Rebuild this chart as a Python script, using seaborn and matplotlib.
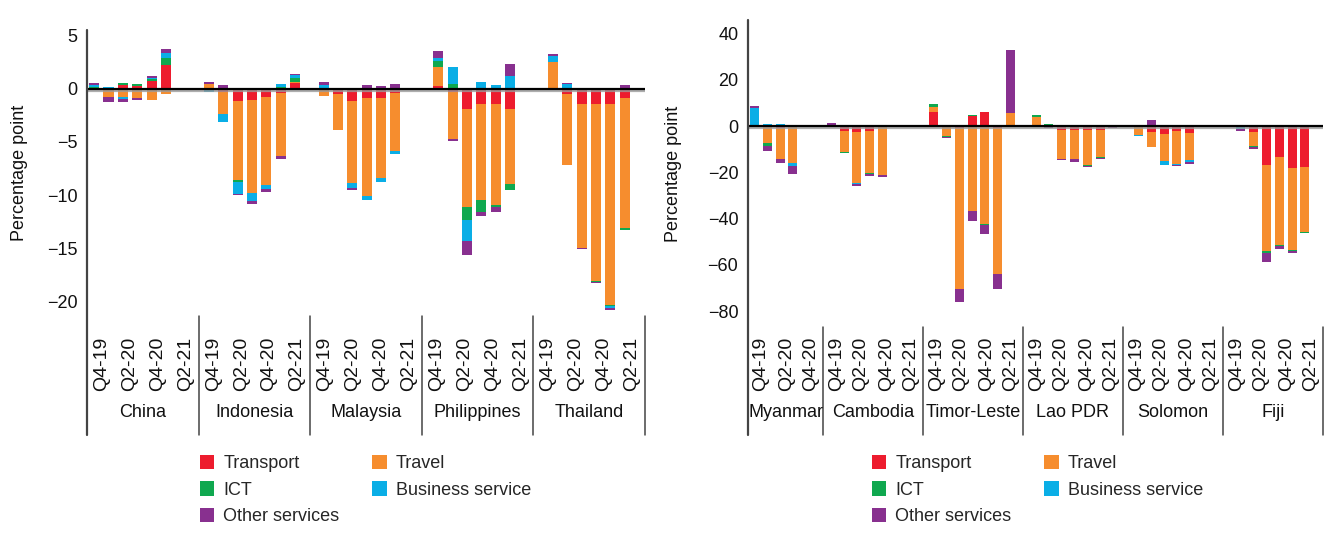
import numpy as np
import pandas as pd
import matplotlib
matplotlib.use('Agg')
import matplotlib.pyplot as plt
import matplotlib.transforms as mtransforms
import matplotlib.patheffects as pe
from matplotlib.patches import Patch
import seaborn as sns

sns.set_theme(style='white')
plt.rcParams['font.family'] = ['Liberation Sans Narrow', 'Liberation Sans', 'DejaVu Sans']

# Servicios y colores
servicios = ['Transport', 'Travel', 'ICT', 'Business service', 'Other services']
colores = sns.color_palette(['#ED1C2E', '#F68D2E', '#0FA84F', '#0AAEE6', '#88308F'])
trimestres = ['Q4-19', 'Q1-20', 'Q2-20', 'Q3-20', 'Q4-20', 'Q1-21', 'Q2-21', 'Q3-21']

# ---------------- Panel izquierdo ----------------
paises_a = ['China', 'Indonesia', 'Malaysia', 'Philippines', 'Thailand']
slots_a = [8, 8, 8, 8, 8]

transport_a = [
    [0.00, -0.05, 0.38, 0.31, 0.72, 2.29],
    [0.00, -0.25, -1.10, -1.00, -0.72, -0.34, 0.60],
    [0.00, -0.44, -1.10, -0.90, -0.90, -0.34],
    [0.31, -0.25, -1.94, -1.38, -1.47, -1.85],
    [-0.15, -0.44, -1.38, -1.47, -1.38, -0.90],
]
travel_a = [
    [-0.05, -0.70, -0.78, -0.88, -1.00, -0.44],
    [0.50, -2.16, -7.52, -8.80, -8.37, -6.00, 0.06],
    [-0.63, -3.48, -7.80, -9.20, -7.50, -5.55],
    [1.79, -4.50, -9.20, -9.12, -9.50, -7.15],
    [2.57, -6.77, -13.60, -16.60, -19.00, -12.20],
]
ict_a = [
    [0.22, 0.00, 0.22, 0.19, 0.19, 0.66],
    [0.00, 0.00, -0.19, 0.00, 0.00, 0.22, 0.38],
    [0.12, 0.00, 0.00, 0.00, 0.12, 0.00],
    [0.56, 0.50, -1.22, -1.13, -0.19, -0.56],
    [0.00, 0.00, 0.00, -0.10, -0.10, -0.19],
]
business_a = [
    [0.19, 0.22, -0.19, 0.00, 0.16, 0.47],
    [-0.25, -0.75, -1.13, -0.78, -0.38, 0.28, 0.28],
    [0.28, 0.00, -0.47, -0.38, -0.38, -0.28],
    [0.28, 1.60, -1.97, 0.69, 0.41, 1.25],
    [0.56, 0.50, 0.00, 0.00, -0.19, 0.12],
]
otros_a = [
    [0.10, -0.47, -0.22, -0.12, 0.10, 0.38],
    [0.19, 0.40, -0.10, -0.28, -0.28, -0.28, 0.10],
    [0.28, 0.12, -0.19, 0.41, 0.19, 0.50],
    [0.66, -0.19, -1.32, -0.38, -0.47, 1.13],
    [0.19, 0.10, -0.10, -0.10, -0.19, 0.28],
]

# ---------------- Panel derecho ----------------
paises_b = ['Myanmar', 'Cambodia', 'Timor-Leste', 'Lao PDR', 'Solomon', 'Fiji']
slots_b = [6, 8, 8, 8, 8, 8]

transport_b = [
    [0.00, 0.00, -0.70, 0.40],
    [0.00, -2.16, -2.60, -2.16, 0.00],
    [6.04, 0.00, -0.86, 4.30, 6.04, -0.86, 0.00],
    [0.40, 0.00, -1.73, -1.73, -1.73, -1.73, 0.00],
    [0.00, -2.60, -3.45, -2.16, -3.00],
    [0.00, -2.60, -16.80, -13.40, -18.10, -17.70],
]
travel_b = [
    [0.00, -7.30, -13.50, -16.00],
    [0.00, -9.10, -22.00, -18.00, -21.20],
    [2.16, -4.30, -69.50, -36.70, -42.30, -63.00, 5.60],
    [3.45, 0.00, -12.50, -12.50, -15.10, -11.65, 0.40],
    [-3.90, -6.50, -11.65, -14.20, -11.65],
    [-0.50, -6.04, -37.10, -38.00, -35.40, -28.10],
]
ict_b = [
    [0.00, -1.30, 0.00, 0.00],
    [0.00, -0.40, 0.00, -0.60, 0.00],
    [1.30, -0.40, 0.00, 0.40, -0.40, 0.00, 0.00],
    [0.86, 0.86, 0.00, 0.00, -0.40, -0.40, 0.00],
    [0.00, 0.00, 0.00, 0.00, 0.00],
    [0.00, -0.40, -0.86, -0.40, -0.40, -0.40],
]
business_b = [
    [7.80, 0.86, 0.86, -1.30],
    [0.40, 0.00, -0.40, 0.00, 0.40],
    [0.00, 0.00, 0.00, 0.00, 0.00, 0.00, 0.00],
    [0.00, 0.00, 0.00, 0.00, 0.00, 0.00, 0.00],
    [-0.40, 0.00, -1.73, -0.40, -0.86],
    [-0.70, 0.00, 0.00, 0.00, 0.00, 0.00],
]
otros_b = [
    [0.86, -2.16, -1.70, -3.45],
    [0.86, 0.40, -0.86, -0.86, -0.86],
    [0.00, -0.40, -5.90, -4.30, -3.90, -6.50, 27.20],
    [0.00, -0.86, -0.40, -1.30, -0.40, -0.40, -0.86],
    [0.40, 2.60, 0.40, -0.40, -0.86],
    [-0.86, -0.86, -3.90, -1.30, -0.86, 0.00],
]


def armar_tabla(paises, slots, series):
    filas = []
    inicio = np.concatenate([[0], np.cumsum(slots)[:-1]])
    for s, serie in enumerate(series):
        for c, pais in enumerate(paises):
            for q, v in enumerate(serie[c]):
                filas.append({'pais': pais, 'trimestre': trimestres[q],
                              'x': inicio[c] + q, 'servicio': servicios[s],
                              'orden': s, 'valor': v})
    return pd.DataFrame(filas)


def dibujar_panel(ax, paises, slots, series, ylim, yticks, y_bajo_fig, xlab, escala):
    df = armar_tabla(paises, slots, series)
    inicio = np.concatenate([[0], np.cumsum(slots)[:-1]])
    total = sum(slots)

    arriba = {}
    abajo = {}
    for s in range(len(servicios)):
        sub = df[df['orden'] == s]
        xs = sub['x'].to_numpy()
        vals = sub['valor'].to_numpy()
        base = np.array([arriba.get(x, 0.0) if v >= 0 else abajo.get(x, 0.0)
                         for x, v in zip(xs, vals)])
        # las barras del original van un poco más espaciadas que los divisores
        xpos = -0.5 + (xs + 0.5) * escala
        ax.bar(xpos, vals, bottom=base, width=0.72, color=colores[s],
               linewidth=0, zorder=2)
        for x, v, b in zip(xs, vals, base):
            if v >= 0:
                arriba[x] = b + v
            else:
                abajo[x] = b + v

    ax.axhline(0, color='black', lw=1.6, zorder=4,
               path_effects=[pe.SimpleLineShadow(offset=(0, -1.6), shadow_color='#9a9a9a', alpha=0.8),
                             pe.Normal()])

    ax.set_xlim(-0.5, total - 0.5)
    ax.set_ylim(*ylim)
    ax.set_yticks(yticks)
    ax.set_yticklabels([f'{t:d}'.replace('-', '\u2212') for t in yticks])
    ax.set_xticks([])
    ax.tick_params(axis='y', length=0, pad=7, labelsize=13, labelcolor='#111111')
    sns.despine(ax=ax, top=True, right=True, bottom=True, left=True)

    fig = ax.figure
    trans = mtransforms.blended_transform_factory(ax.transData, fig.transFigure)
    caja = ax.get_position()

    # Linea del eje y y divisores de grupos
    ax.plot([-0.5, -0.5], [caja.y1, y_bajo_fig], transform=trans, color='#444444',
            lw=1.6, clip_on=False, zorder=5)
    for b in list(inicio[1:] - 0.5) + [total - 0.5]:
        ax.plot([b, b], [caja.y0, y_bajo_fig], transform=trans, color='#444444',
                lw=1.1, clip_on=False)

    # Etiquetas de trimestres y países
    for c, pais in enumerate(paises):
        for q in range(0, slots[c], 2):
            ax.text(inicio[c] + q + 0.55, 0.376, trimestres[q], transform=trans,
                    rotation=90, ha='center', va='top', fontsize=14, color='#111111')
        ax.text(inicio[c] + slots[c] / 2 - 0.5, 0.234, pais, transform=trans,
                ha='center', va='center', fontsize=13, color='#111111')

    ax.set_ylabel('Percentage point', fontsize=13, color='#111111')
    ax.yaxis.set_label_coords(xlab, 0.5)


fig = plt.figure(figsize=(13.25, 5.39), dpi=100)
ax1 = fig.add_axes([87 / 1325, 1 - 316 / 539, 558 / 1325, 286 / 539])
ax2 = fig.add_axes([748 / 1325, 1 - 327 / 539, 575 / 1325, 307 / 539])

dibujar_panel(ax1, paises_a, slots_a,
              [transport_a, travel_a, ict_a, business_a, otros_a],
              (-21.4, 5.55), [5, 0, -5, -10, -15, -20], 0.193, -0.105, 1.028)
dibujar_panel(ax2, paises_b, slots_b,
              [transport_b, travel_b, ict_b, business_b, otros_b],
              (-86.9, 45.9), [40, 20, 0, -20, -40, -60, -80], 0.193, -0.115, 1.024)

# Leyendas (orden por columnas)
orden = [0, 2, 4, 1, 3]
manijas = [Patch(facecolor=colores[i], edgecolor='none') for i in orden]
etiquetas = [servicios[i] for i in orden]
for x0 in (200 / 1325, 872 / 1325):
    fig.legend(manijas, etiquetas, ncol=2, loc='upper left',
               bbox_to_anchor=(x0, 1 - 455 / 539), frameon=False, fontsize=13,
               handlelength=0.8, handleheight=0.85, handletextpad=0.5,
               columnspacing=1.8, labelspacing=0.5, borderpad=0, borderaxespad=0)

fig.savefig('out.png', dpi=100)
